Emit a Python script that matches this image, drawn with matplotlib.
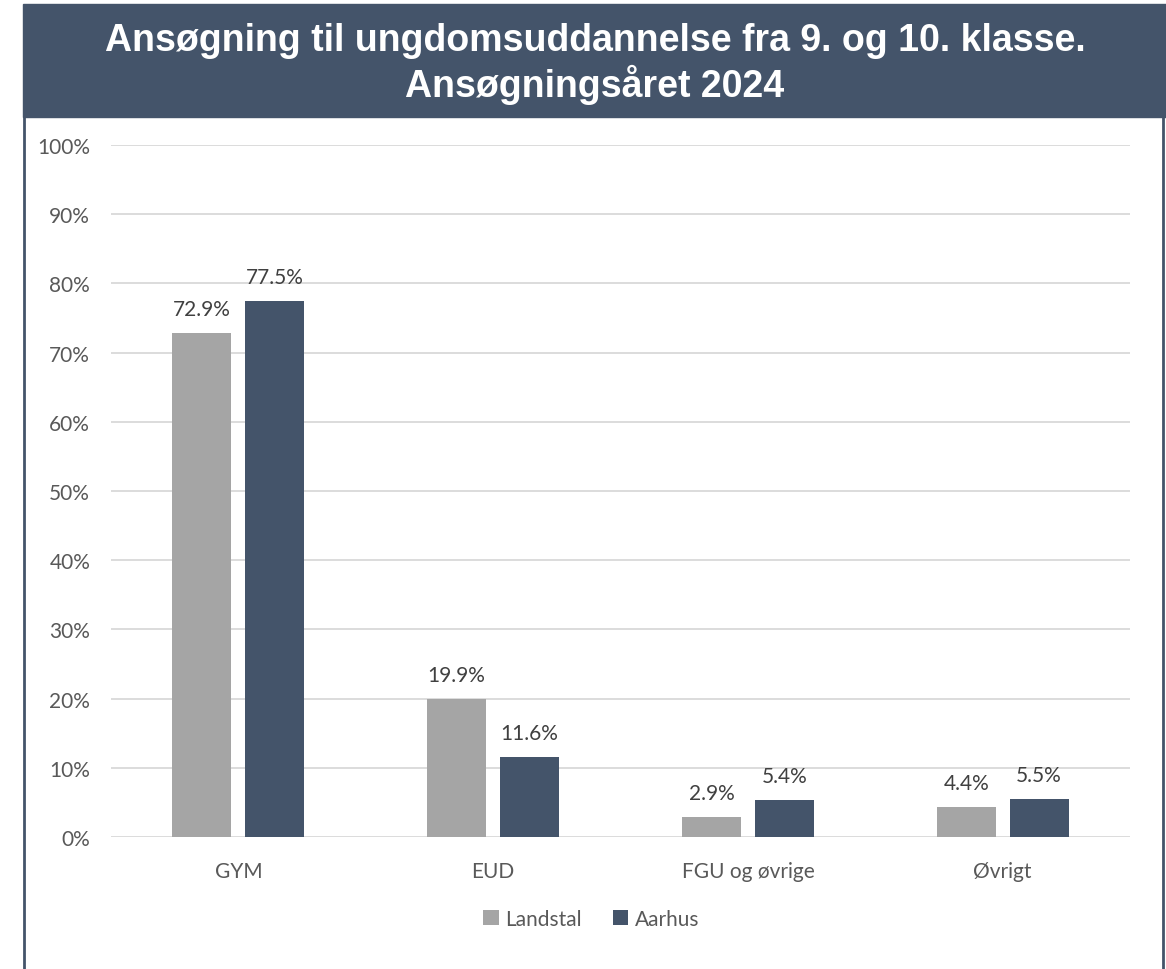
import numpy as np
import matplotlib.pyplot as plt
from matplotlib.patches import Rectangle
from matplotlib.lines import Line2D

categories = ["GYM", "EUD", "FGU og øvrige", "Øvrigt"]
landstal = [72.9, 19.9, 2.9, 4.4]
aarhus = [77.5, 11.6, 5.4, 5.5]
series_names = ["Landstal", "Aarhus"]

title = "Ansøgning til ungdomsuddannelse fra 9. og 10. klasse.\nAnsøgningsåret 2024"

W, H = 1166, 970
navy = "#44546A"
grey = "#A5A5A5"
txt = "#595959"

plt.rcParams['font.family'] = ['Lato', 'DejaVu Sans']

fig = plt.figure(figsize=(W / 100, H / 100), dpi=100)

# title banner and frame
fig.patches.append(Rectangle((23 / W, 1 - 118 / H), 1 - 23 / W, 113 / H,
                             transform=fig.transFigure, color=navy, zorder=0))
fig.lines.append(Line2D([24 / W, 24 / W], [0, 1 - 118 / H], transform=fig.transFigure,
                        color=navy, lw=2))
fig.lines.append(Line2D([1163 / W, 1163 / W], [0, 1 - 118 / H], transform=fig.transFigure,
                        color=navy, lw=2))
fig.text(595 / W, 1 - 64 / H, title, ha="center", va="center", color="white",
         fontsize=27.0, fontweight="bold", family="Liberation Sans", linespacing=1.2)

ax = fig.add_axes([111 / W, 1 - 838 / H, (1130 - 111) / W, (838 - 146) / H])

x = np.arange(len(categories))
bw = 0.232
off = 0.143
b1 = ax.bar(x - off, landstal, bw, color=grey, label=series_names[0], zorder=3)
b2 = ax.bar(x + off, aarhus, bw, color=navy, label=series_names[1], zorder=3)

for bars, vals in [(b1, landstal), (b2, aarhus)]:
    for r, v in zip(bars, vals):
        ax.annotate(f"{v:.1f}%", (r.get_x() + r.get_width() / 2, v),
                    xytext=(0, 10), textcoords="offset points",
                    ha="center", va="bottom", fontsize=15, color="#404040")

ax.set_xlim(-0.5, len(categories) - 0.5)
ax.set_ylim(0, 100)
ax.set_yticks(np.arange(0, 101, 10))
ax.set_yticklabels([f"{v}%" for v in range(0, 101, 10)])
ax.set_xticks(x)
ax.set_xticklabels(categories)
ax.tick_params(axis="both", length=0, labelsize=15, labelcolor=txt)
ax.tick_params(axis="y", pad=15)
ax.tick_params(axis="x", pad=17)
ax.grid(axis="y", color="#D9D9D9", lw=1.3, zorder=0)
ax.set_axisbelow(True)
for s in ax.spines.values():
    s.set_visible(False)

fig.legend(handles=[b1, b2], labels=series_names, loc="center",
           bbox_to_anchor=(591 / W, 1 - 920 / H), ncol=2, frameon=False,
           fontsize=15, labelcolor=txt, handlelength=0.75, handleheight=0.75,
           handletextpad=0.3, columnspacing=1.5)

fig.savefig("out.png", dpi=100, facecolor="white")
